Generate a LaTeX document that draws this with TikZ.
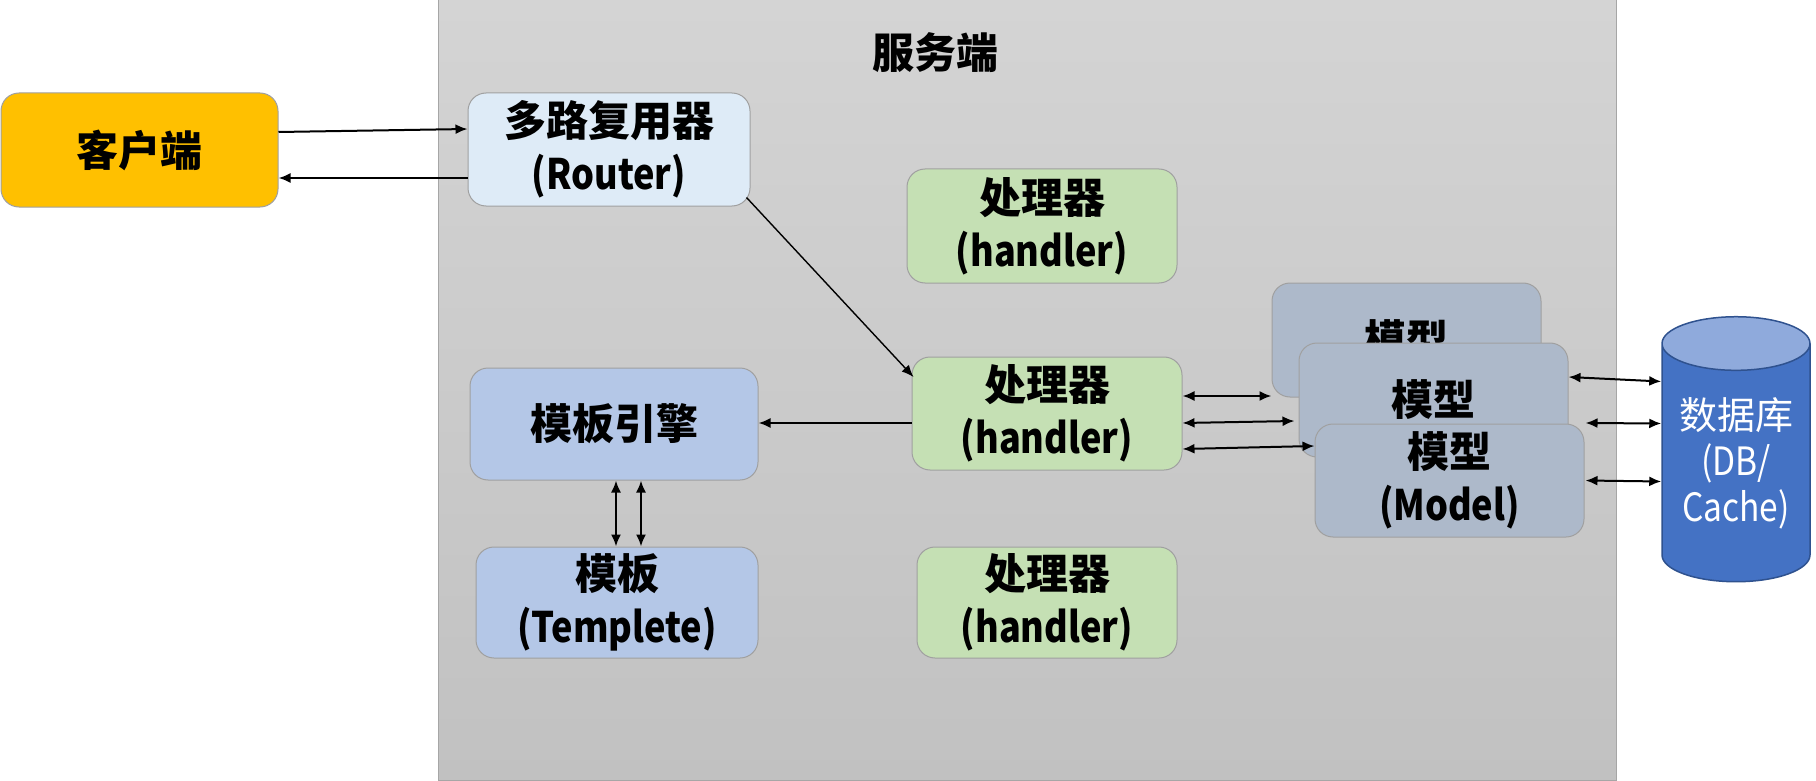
\documentclass[tikz,border=0pt]{standalone}
\usepackage{fontspec}
\setmainfont{Noto Sans CJK SC}
\newfontfamily\lat{Noto Sans CJK SC}[FakeStretch=0.86]
\usetikzlibrary{shapes.geometric,arrows.meta}
\definecolor{clientc}{HTML}{FFC000}
\definecolor{routerc}{HTML}{DEEBF7}
\definecolor{handc}{HTML}{C5E0B4}
\definecolor{tmplc}{HTML}{B4C7E7}
\definecolor{modelc}{HTML}{ADB9CA}
\definecolor{dbbody}{HTML}{4472C4}
\definecolor{dbtop}{HTML}{8FAADC}
\definecolor{dbline}{HTML}{2F528F}
\definecolor{boxline}{HTML}{A0A0A0}
\definecolor{servtop}{HTML}{D4D4D4}
\definecolor{servbot}{HTML}{C1C1C1}
\definecolor{servline}{HTML}{A6A6A6}
\begin{document}
\begin{tikzpicture}[x=1pt,y=-1pt,
  box/.style={draw=boxline, line width=1pt, rounded corners=18pt, inner sep=0pt, align=center,
    font=\fontsize{42}{53}\selectfont\bfseries},
  conn/.style={line width=2pt, -{Latex[length=12pt,width=10pt]}},
  thinconn/.style={line width=1.4pt, -{Latex[length=12pt,width=10pt]}},
  bi/.style={line width=2pt, {Latex[length=12pt,width=10pt]}-{Latex[length=12pt,width=10pt]}},
]
\useasboundingbox (0,0) rectangle (1816,781);
% server area
\node[draw=servline, line width=1pt, top color=servtop, bottom color=servbot,
  minimum width=1178pt, minimum height=780pt, inner sep=0pt] (server) at (1027,390) {};
\node[font=\fontsize{42}{52}\selectfont\bfseries] (title) at (935,53) {服务端};
% boxes
\node[box, fill=clientc, minimum width=277pt, minimum height=114pt] (client) at (139.5,150) {客户端};
\node[box, fill=routerc, minimum width=282pt, minimum height=113pt] (router) at (609,149.5) {多路复用器\\{\lat (Router)}};
\node[box, fill=handc, minimum width=270pt, minimum height=114pt] (h1) at (1042,226) {处理器\\{\lat (handler)}};
\node[box, fill=handc, minimum width=270pt, minimum height=113pt] (h2) at (1047,413.5) {处理器\\{\lat (handler)}};
\node[box, fill=handc, minimum width=260pt, minimum height=111pt] (h3) at (1047,602.5) {处理器\\{\lat (handler)}};
\node[box, fill=tmplc, minimum width=288pt, minimum height=112pt] (engine) at (614,424) {模板引擎};
\node[box, fill=tmplc, minimum width=282pt, minimum height=111pt] (tmpl) at (617,602.5) {模板\\{\lat (Templete)}};
\node[box, fill=modelc, minimum width=269pt, minimum height=114pt] (mback) at (1406.5,340) {模型};
\node[box, fill=modelc, minimum width=269pt, minimum height=114pt] (mmid) at (1433.5,400) {模型};
\node[box, fill=modelc, minimum width=269pt, minimum height=113pt] (mfront) at (1449.5,480.5) {模型\\{\lat (Model)}};
\node[cylinder, shape border rotate=90, draw=dbline, line width=1.5pt, cylinder uses custom fill,
  cylinder body fill=dbbody, cylinder end fill=dbtop, minimum width=148pt, minimum height=265pt,
  aspect=0.47, inner sep=0pt, text=white, align=center, font=\fontsize{38}{46}\selectfont] (db) at (1736,463)
  {数据库\\{\lat\fontsize{39}{46}\selectfont (DB/}\\{\lat\fontsize{39}{46}\selectfont Cache)}};
% connectors
\draw[conn] ([yshift=18pt]client.east) -- ([yshift=20.5pt]router.west);
\draw[conn] ([yshift=-28.5pt]router.west) -- ([yshift=-28pt]client.east);
\draw[thinconn] ([xshift=-4pt,yshift=9pt]router.south east) -- ([xshift=2pt,yshift=36.5pt]h2.west);
\draw[conn] ([yshift=-9.5pt]h2.west) -- ([yshift=1pt]engine.east);
\draw[bi] ([xshift=2pt]engine.south) -- ([xshift=-1pt]tmpl.north);
\draw[bi] ([xshift=27pt]engine.south) -- ([xshift=24pt]tmpl.north);
\draw[bi] ([yshift=17.5pt]h2.east) -- ([yshift=-56pt]mback.west);
\draw[bi] ([yshift=-9.5pt]h2.east) -- ([xshift=-4pt,yshift=-21pt]mmid.west);
\draw[bi] ([yshift=-35.5pt]h2.east) -- ([yshift=34.5pt]mfront.west);
\draw[bi] ([yshift=23pt]mmid.east) -- ([yshift=81.5pt]db.west);
\draw[bi] ([xshift=1pt,yshift=57.5pt]mfront.east) -- ([yshift=39.5pt]db.west);
\draw[bi] ([xshift=1pt]mfront.east) -- ([yshift=-18.5pt]db.west);
\end{tikzpicture}
\end{document}
